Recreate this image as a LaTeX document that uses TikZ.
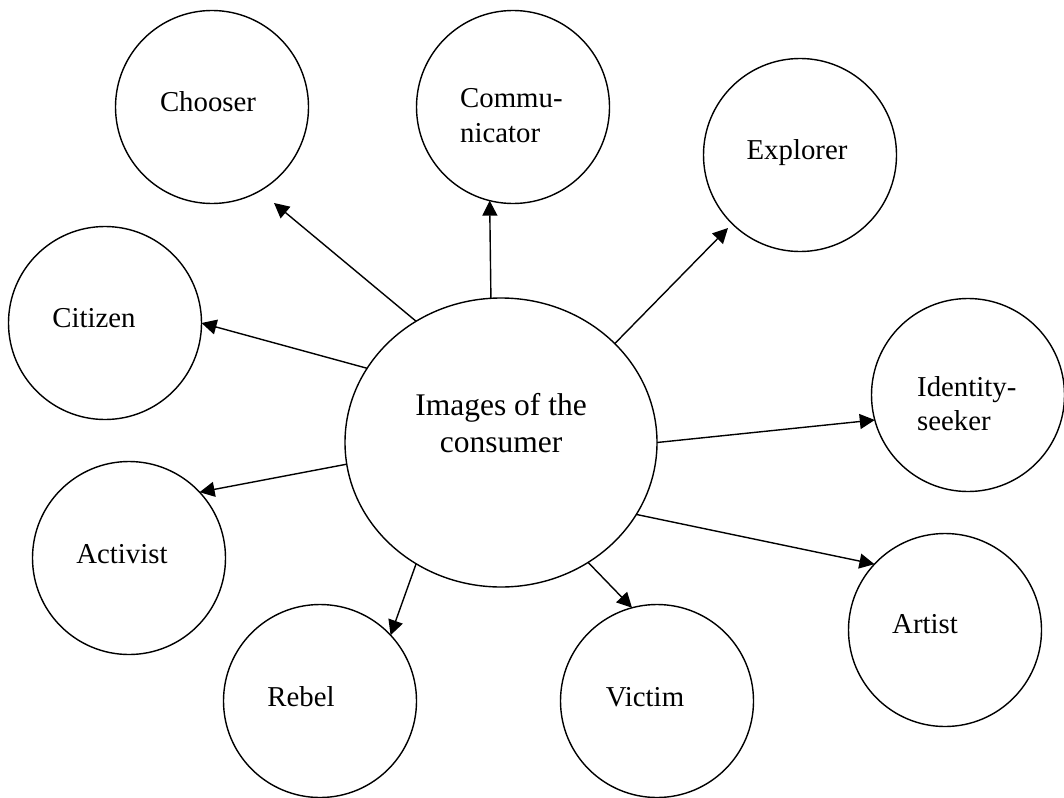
\documentclass[tikz,border=0pt]{standalone}
\usepackage{fontspec}
\setmainfont{Liberation Serif}
\usetikzlibrary{shapes.geometric,arrows.meta}
\begin{document}
\begin{tikzpicture}[x=1pt,y=-1pt,
  role/.style={circle,draw,line width=1.4pt,minimum size=193pt,inner sep=0pt,outer sep=0pt},
  hub/.style={ellipse,draw,line width=1.4pt,minimum width=312pt,minimum height=289pt,inner sep=0pt,outer sep=0pt},
  lbl/.style={inner sep=0pt,font=\fontsize{28.8}{34}\selectfont},
  hublbl/.style={inner sep=0pt,font=\fontsize{31.5}{37}\selectfont},
  arr/.style={line width=1.4pt,-{Triangle[length=15pt,width=15pt]}}]
\fill[white] (0,0) rectangle (1064,797);
\useasboundingbox (0,0) rectangle (1064,797);

% hub
\node[hub] (main) at (501,442.5) {};
\node[hublbl,anchor=base] (mainT) at (501,415)
  {\begin{tabular}[t]{@{}c@{}}Images of the\\consumer\end{tabular}};

% roles
\node[role] (chooser) at (212,107) {};
\node[role] (comm) at (513,107) {};
\node[role] (explorer) at (800,155) {};
\node[role] (citizen) at (105,323) {};
\node[role] (identity) at (968,395) {};
\node[role] (activist) at (129,558) {};
\node[role] (artist) at (945,630) {};
\node[role] (rebel) at (320,701) {};
\node[role] (victim) at (657,701) {};

% labels
\node[lbl,anchor=base] (chooserT) at (208,112) {Chooser};
\node[lbl,anchor=base west] (commT) at (460,108)
  {\begin{tabular}[t]{@{}l@{}}Commu-\\nicator\end{tabular}};
\node[lbl,anchor=base] (explorerT) at (797,159) {Explorer};
\node[lbl,anchor=base] (citizenT) at (94,327) {Citizen};
\node[lbl,anchor=base west] (identityT) at (917,396)
  {\begin{tabular}[t]{@{}l@{}}Identity-\\seeker\end{tabular}};
\node[lbl,anchor=base] (activistT) at (122,563) {Activist};
\node[lbl,anchor=base] (artistT) at (925,633) {Artist};
\node[lbl,anchor=base] (rebelT) at (301,706) {Rebel};
\node[lbl,anchor=base] (victimT) at (645,706) {Victim};

% free arrow ends
\coordinate (tChooser) at (274,203);
\coordinate (tExplorer) at (728,228);

% connectors
\draw[arr] (main.125.4) -- (tChooser);
\draw[arr] (main.94.8) -- (comm.256.1);
\draw[arr] (main.41.5) -- (tExplorer);
\draw[arr] (main.151.7) -- (citizen.0);
\draw[arr] (main.-0.2) -- (identity.195.3);
\draw[arr] (main.188.9) -- (activist.43);
\draw[arr] (main.-28.6) -- (artist.137);
\draw[arr] (main.235.3) -- (rebel.43);
\draw[arr] (main.-54.7) -- (victim.105.4);
\end{tikzpicture}
\end{document}
